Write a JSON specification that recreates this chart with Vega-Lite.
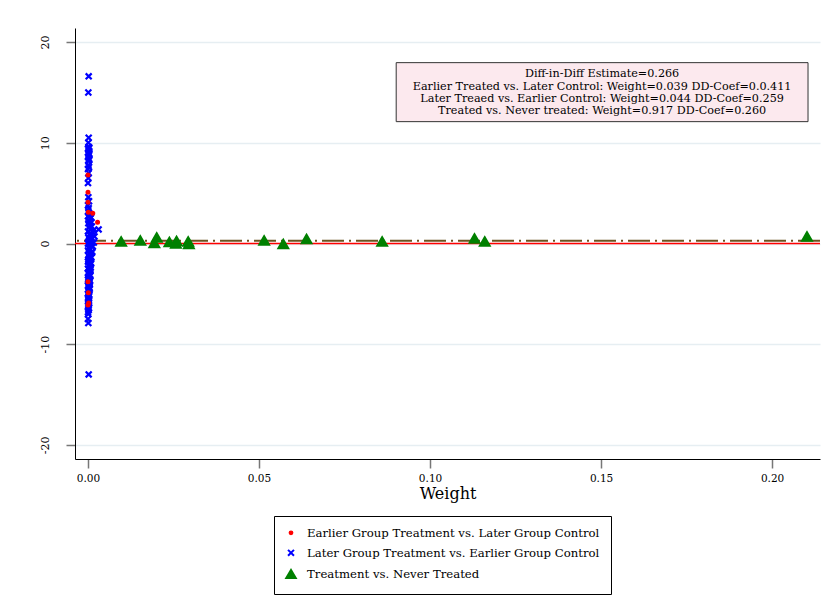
{
  "$schema": "https://vega.github.io/schema/vega-lite/v6.json",
  "autosize": {"type": "none"},
  "width": 745,
  "height": 431,
  "padding": {"left": 75, "top": 28, "right": 15, "bottom": 157},
  "background": "white",
  "config": {
    "view": {"stroke": null},
    "font": "DejaVu Serif",
    "axis": {"labelFont": "DejaVu Serif", "titleFont": "DejaVu Serif", "labelFontSize": 11, "labelColor": "black", "titleColor": "black", "domainColor": "black", "tickColor": "#777777", "tickSize": 9, "tickWidth": 1.5, "titleFontWeight": "normal"},
    "legend": {"labelFont": "DejaVu Serif", "labelFontSize": 11.7, "labelColor": "black"}
  },
  "layer": [
    {
      "data": {"values": [{"a": 1}]},
      "mark": {"type": "rule", "color": "#ff0000", "strokeWidth": 1.5},
      "encoding": {"y": {"datum": 0, "type": "quantitative"}}
    },
    {
      "data": {"values": [{"a": 1}]},
      "mark": {"type": "rule", "color": "#6b5320", "strokeWidth": 2, "strokeDash": [22, 5, 2, 5]},
      "encoding": {"y": {"datum": 0.266, "type": "quantitative"}}
    },
    {
      "data": {"values": [
        {"group": "Later Group Treatment vs. Earlier Group Control", "w": 0.0002, "v": 16.6},
        {"group": "Later Group Treatment vs. Earlier Group Control", "w": 0.0001, "v": 15.0},
        {"group": "Later Group Treatment vs. Earlier Group Control", "w": 0.0002, "v": 10.5},
        {"group": "Later Group Treatment vs. Earlier Group Control", "w": 0.0001, "v": 10.0},
        {"group": "Later Group Treatment vs. Earlier Group Control", "w": 0.0002, "v": 9.6},
        {"group": "Later Group Treatment vs. Earlier Group Control", "w": 0.0000, "v": 9.4},
        {"group": "Later Group Treatment vs. Earlier Group Control", "w": 0.0003, "v": 9.2},
        {"group": "Later Group Treatment vs. Earlier Group Control", "w": 0.0001, "v": 9.0},
        {"group": "Later Group Treatment vs. Earlier Group Control", "w": 0.0002, "v": 8.8},
        {"group": "Later Group Treatment vs. Earlier Group Control", "w": 0.0000, "v": 8.6},
        {"group": "Later Group Treatment vs. Earlier Group Control", "w": 0.0003, "v": 8.4},
        {"group": "Later Group Treatment vs. Earlier Group Control", "w": 0.0001, "v": 8.2},
        {"group": "Later Group Treatment vs. Earlier Group Control", "w": 0.0001, "v": 7.8},
        {"group": "Later Group Treatment vs. Earlier Group Control", "w": 0.0000, "v": 7.4},
        {"group": "Later Group Treatment vs. Earlier Group Control", "w": 0.0002, "v": 7.0},
        {"group": "Later Group Treatment vs. Earlier Group Control", "w": 0.0001, "v": 6.5},
        {"group": "Later Group Treatment vs. Earlier Group Control", "w": 0.0000, "v": 6.0},
        {"group": "Later Group Treatment vs. Earlier Group Control", "w": 0.0001, "v": 4.6},
        {"group": "Later Group Treatment vs. Earlier Group Control", "w": 0.0003, "v": 4.2},
        {"group": "Later Group Treatment vs. Earlier Group Control", "w": 0.0000, "v": 3.8},
        {"group": "Later Group Treatment vs. Earlier Group Control", "w": 0.0002, "v": 3.5},
        {"group": "Later Group Treatment vs. Earlier Group Control", "w": 0.0001, "v": 3.2},
        {"group": "Later Group Treatment vs. Earlier Group Control", "w": 0.0005, "v": 2.9},
        {"group": "Later Group Treatment vs. Earlier Group Control", "w": 0.0000, "v": 2.7},
        {"group": "Later Group Treatment vs. Earlier Group Control", "w": 0.0007, "v": 2.5},
        {"group": "Later Group Treatment vs. Earlier Group Control", "w": 0.0002, "v": 2.3},
        {"group": "Later Group Treatment vs. Earlier Group Control", "w": 0.0010, "v": 2.1},
        {"group": "Later Group Treatment vs. Earlier Group Control", "w": 0.0001, "v": 2.0},
        {"group": "Later Group Treatment vs. Earlier Group Control", "w": 0.0006, "v": 1.8},
        {"group": "Later Group Treatment vs. Earlier Group Control", "w": 0.0003, "v": 1.6},
        {"group": "Later Group Treatment vs. Earlier Group Control", "w": 0.0031, "v": 1.4},
        {"group": "Later Group Treatment vs. Earlier Group Control", "w": 0.0016, "v": 1.3},
        {"group": "Later Group Treatment vs. Earlier Group Control", "w": 0.0000, "v": 1.2},
        {"group": "Later Group Treatment vs. Earlier Group Control", "w": 0.0008, "v": 1.0},
        {"group": "Later Group Treatment vs. Earlier Group Control", "w": 0.0004, "v": 0.9},
        {"group": "Later Group Treatment vs. Earlier Group Control", "w": 0.0019, "v": 0.7},
        {"group": "Later Group Treatment vs. Earlier Group Control", "w": 0.0001, "v": 0.6},
        {"group": "Later Group Treatment vs. Earlier Group Control", "w": 0.0009, "v": 0.4},
        {"group": "Later Group Treatment vs. Earlier Group Control", "w": 0.0003, "v": 0.3},
        {"group": "Later Group Treatment vs. Earlier Group Control", "w": 0.0017, "v": 0.1},
        {"group": "Later Group Treatment vs. Earlier Group Control", "w": 0.0000, "v": 0.0},
        {"group": "Later Group Treatment vs. Earlier Group Control", "w": 0.0006, "v": -0.1},
        {"group": "Later Group Treatment vs. Earlier Group Control", "w": 0.0014, "v": -0.3},
        {"group": "Later Group Treatment vs. Earlier Group Control", "w": 0.0002, "v": -0.4},
        {"group": "Later Group Treatment vs. Earlier Group Control", "w": 0.0007, "v": -0.6},
        {"group": "Later Group Treatment vs. Earlier Group Control", "w": 0.0000, "v": -0.7},
        {"group": "Later Group Treatment vs. Earlier Group Control", "w": 0.0012, "v": -0.9},
        {"group": "Later Group Treatment vs. Earlier Group Control", "w": 0.0004, "v": -1.0},
        {"group": "Later Group Treatment vs. Earlier Group Control", "w": 0.0001, "v": -1.2},
        {"group": "Later Group Treatment vs. Earlier Group Control", "w": 0.0008, "v": -1.3},
        {"group": "Later Group Treatment vs. Earlier Group Control", "w": 0.0003, "v": -1.5},
        {"group": "Later Group Treatment vs. Earlier Group Control", "w": 0.0006, "v": -1.7},
        {"group": "Later Group Treatment vs. Earlier Group Control", "w": 0.0000, "v": -1.8},
        {"group": "Later Group Treatment vs. Earlier Group Control", "w": 0.0009, "v": -2.0},
        {"group": "Later Group Treatment vs. Earlier Group Control", "w": 0.0002, "v": -2.1},
        {"group": "Later Group Treatment vs. Earlier Group Control", "w": 0.0005, "v": -2.3},
        {"group": "Later Group Treatment vs. Earlier Group Control", "w": 0.0000, "v": -2.5},
        {"group": "Later Group Treatment vs. Earlier Group Control", "w": 0.0007, "v": -2.6},
        {"group": "Later Group Treatment vs. Earlier Group Control", "w": 0.0003, "v": -2.8},
        {"group": "Later Group Treatment vs. Earlier Group Control", "w": 0.0001, "v": -3.0},
        {"group": "Later Group Treatment vs. Earlier Group Control", "w": 0.0006, "v": -3.1},
        {"group": "Later Group Treatment vs. Earlier Group Control", "w": 0.0002, "v": -3.3},
        {"group": "Later Group Treatment vs. Earlier Group Control", "w": 0.0004, "v": -3.5},
        {"group": "Later Group Treatment vs. Earlier Group Control", "w": 0.0000, "v": -3.6},
        {"group": "Later Group Treatment vs. Earlier Group Control", "w": 0.0005, "v": -3.8},
        {"group": "Later Group Treatment vs. Earlier Group Control", "w": 0.0002, "v": -4.0},
        {"group": "Later Group Treatment vs. Earlier Group Control", "w": 0.0000, "v": -4.2},
        {"group": "Later Group Treatment vs. Earlier Group Control", "w": 0.0004, "v": -4.4},
        {"group": "Later Group Treatment vs. Earlier Group Control", "w": 0.0001, "v": -4.6},
        {"group": "Later Group Treatment vs. Earlier Group Control", "w": 0.0003, "v": -4.8},
        {"group": "Later Group Treatment vs. Earlier Group Control", "w": 0.0000, "v": -5.0},
        {"group": "Later Group Treatment vs. Earlier Group Control", "w": 0.0002, "v": -5.3},
        {"group": "Later Group Treatment vs. Earlier Group Control", "w": 0.0001, "v": -5.6},
        {"group": "Later Group Treatment vs. Earlier Group Control", "w": 0.0003, "v": -5.9},
        {"group": "Later Group Treatment vs. Earlier Group Control", "w": 0.0000, "v": -6.2},
        {"group": "Later Group Treatment vs. Earlier Group Control", "w": 0.0002, "v": -6.6},
        {"group": "Later Group Treatment vs. Earlier Group Control", "w": 0.0001, "v": -7.0},
        {"group": "Later Group Treatment vs. Earlier Group Control", "w": 0.0000, "v": -7.5},
        {"group": "Later Group Treatment vs. Earlier Group Control", "w": 0.0001, "v": -7.9},
        {"group": "Later Group Treatment vs. Earlier Group Control", "w": 0.0002, "v": -13.0},
        {"group": "Later Group Treatment vs. Earlier Group Control", "w": 0.0004, "v": 9.5},
        {"group": "Later Group Treatment vs. Earlier Group Control", "w": 0.0004, "v": 8.9},
        {"group": "Later Group Treatment vs. Earlier Group Control", "w": 0.0004, "v": 8.3},
        {"group": "Later Group Treatment vs. Earlier Group Control", "w": 0.0003, "v": 7.6},
        {"group": "Later Group Treatment vs. Earlier Group Control", "w": 0.0003, "v": 3.0},
        {"group": "Later Group Treatment vs. Earlier Group Control", "w": 0.0009, "v": 2.6},
        {"group": "Later Group Treatment vs. Earlier Group Control", "w": 0.0004, "v": 2.2},
        {"group": "Later Group Treatment vs. Earlier Group Control", "w": 0.0011, "v": 1.7},
        {"group": "Later Group Treatment vs. Earlier Group Control", "w": 0.0014, "v": 1.1},
        {"group": "Later Group Treatment vs. Earlier Group Control", "w": 0.0006, "v": 0.8},
        {"group": "Later Group Treatment vs. Earlier Group Control", "w": 0.0013, "v": 0.5},
        {"group": "Later Group Treatment vs. Earlier Group Control", "w": 0.0005, "v": 0.2},
        {"group": "Later Group Treatment vs. Earlier Group Control", "w": 0.0011, "v": -0.2},
        {"group": "Later Group Treatment vs. Earlier Group Control", "w": 0.0004, "v": -0.5},
        {"group": "Later Group Treatment vs. Earlier Group Control", "w": 0.0012, "v": -0.8},
        {"group": "Later Group Treatment vs. Earlier Group Control", "w": 0.0006, "v": -1.1},
        {"group": "Later Group Treatment vs. Earlier Group Control", "w": 0.0010, "v": -1.4},
        {"group": "Later Group Treatment vs. Earlier Group Control", "w": 0.0001, "v": -1.6},
        {"group": "Later Group Treatment vs. Earlier Group Control", "w": 0.0008, "v": -1.9},
        {"group": "Later Group Treatment vs. Earlier Group Control", "w": 0.0003, "v": -2.2},
        {"group": "Later Group Treatment vs. Earlier Group Control", "w": 0.0008, "v": -2.4},
        {"group": "Later Group Treatment vs. Earlier Group Control", "w": 0.0005, "v": -2.7},
        {"group": "Later Group Treatment vs. Earlier Group Control", "w": 0.0000, "v": -2.9},
        {"group": "Later Group Treatment vs. Earlier Group Control", "w": 0.0007, "v": -3.2},
        {"group": "Later Group Treatment vs. Earlier Group Control", "w": 0.0001, "v": -3.4},
        {"group": "Later Group Treatment vs. Earlier Group Control", "w": 0.0006, "v": -3.7},
        {"group": "Later Group Treatment vs. Earlier Group Control", "w": 0.0003, "v": -3.9},
        {"group": "Later Group Treatment vs. Earlier Group Control", "w": 0.0005, "v": -4.1},
        {"group": "Later Group Treatment vs. Earlier Group Control", "w": 0.0002, "v": -4.3},
        {"group": "Later Group Treatment vs. Earlier Group Control", "w": 0.0005, "v": -4.5},
        {"group": "Later Group Treatment vs. Earlier Group Control", "w": 0.0002, "v": -4.7},
        {"group": "Later Group Treatment vs. Earlier Group Control", "w": 0.0004, "v": -5.1},
        {"group": "Later Group Treatment vs. Earlier Group Control", "w": 0.0000, "v": -5.4},
        {"group": "Later Group Treatment vs. Earlier Group Control", "w": 0.0003, "v": -5.7},
        {"group": "Later Group Treatment vs. Earlier Group Control", "w": 0.0001, "v": -6.0},
        {"group": "Later Group Treatment vs. Earlier Group Control", "w": 0.0003, "v": -6.4},
        {"group": "Later Group Treatment vs. Earlier Group Control", "w": 0.0000, "v": -6.8},
        {"group": "Earlier Group Treatment vs. Later Group Control", "w": 0.0000, "v": 6.8},
        {"group": "Earlier Group Treatment vs. Later Group Control", "w": 0.0000, "v": 5.1},
        {"group": "Earlier Group Treatment vs. Later Group Control", "w": 0.0000, "v": 4.1},
        {"group": "Earlier Group Treatment vs. Later Group Control", "w": 0.0001, "v": 3.1},
        {"group": "Earlier Group Treatment vs. Later Group Control", "w": 0.0014, "v": 3.0},
        {"group": "Earlier Group Treatment vs. Later Group Control", "w": 0.0028, "v": 2.1},
        {"group": "Earlier Group Treatment vs. Later Group Control", "w": 0.0000, "v": -3.8},
        {"group": "Earlier Group Treatment vs. Later Group Control", "w": 0.0001, "v": -4.9},
        {"group": "Earlier Group Treatment vs. Later Group Control", "w": 0.0002, "v": -5.9},
        {"group": "Earlier Group Treatment vs. Later Group Control", "w": 0.0000, "v": -6.1},
        {"group": "Treatment vs. Never Treated", "w": 0.0097, "v": 0.2},
        {"group": "Treatment vs. Never Treated", "w": 0.0153, "v": 0.3},
        {"group": "Treatment vs. Never Treated", "w": 0.0201, "v": 0.6},
        {"group": "Treatment vs. Never Treated", "w": 0.0194, "v": 0.05},
        {"group": "Treatment vs. Never Treated", "w": 0.0238, "v": 0.15},
        {"group": "Treatment vs. Never Treated", "w": 0.0259, "v": 0.25},
        {"group": "Treatment vs. Never Treated", "w": 0.0257, "v": 0.0},
        {"group": "Treatment vs. Never Treated", "w": 0.0293, "v": 0.2},
        {"group": "Treatment vs. Never Treated", "w": 0.0295, "v": -0.05},
        {"group": "Treatment vs. Never Treated", "w": 0.0515, "v": 0.3},
        {"group": "Treatment vs. Never Treated", "w": 0.0571, "v": -0.05},
        {"group": "Treatment vs. Never Treated", "w": 0.0639, "v": 0.45},
        {"group": "Treatment vs. Never Treated", "w": 0.0860, "v": 0.2},
        {"group": "Treatment vs. Never Treated", "w": 0.1130, "v": 0.5},
        {"group": "Treatment vs. Never Treated", "w": 0.1160, "v": 0.2},
        {"group": "Treatment vs. Never Treated", "w": 0.2102, "v": 0.7}
      ]},
      "mark": {"type": "point", "filled": true, "opacity": 1, "strokeWidth": 2.2},
      "encoding": {
        "x": {"field": "w", "type": "quantitative", "scale": {"domain": [-0.0038, 0.214], "nice": false, "zero": false},
              "axis": {"values": [0, 0.05, 0.1, 0.15, 0.2], "format": ".2f", "grid": false, "title": "Weight", "titleFont": "DejaVu Serif", "labelFont": "DejaVu Serif", "labelFontSize": 10.5, "titleFontSize": 16, "titlePadding": 2, "labelPadding": 5}},
        "y": {"field": "v", "type": "quantitative", "scale": {"domain": [-21.4, 21.4], "nice": false, "zero": false},
              "axis": {"values": [-20, -10, 0, 10, 20], "labelExpr": "datum.value < 0 ? '-' + abs(datum.value) : '' + datum.value", "title": null, "grid": true, "gridColor": "#e6eef2", "gridWidth": 1.5, "labelFont": "DejaVu Serif", "labelFontSize": 11, "labelAngle": -90, "labelPadding": 16, "labelAlign": "center", "labelBaseline": "bottom"}},
        "color": {"field": "group", "type": "nominal",
                  "scale": {"domain": ["Earlier Group Treatment vs. Later Group Control", "Later Group Treatment vs. Earlier Group Control", "Treatment vs. Never Treated"], "range": ["#ff0000", "#0000ff", "#008000"]},
                  "legend": {"title": null, "orient": "none", "legendX": 199, "legendY": 488, "direction": "vertical", "strokeColor": "black", "fillColor": "white", "padding": 11, "rowPadding": 5, "labelOffset": 10, "symbolStrokeWidth": 2, "labelLimit": 400, "labelFont": "DejaVu Serif", "labelFontSize": 11.7}},
        "stroke": {"field": "group", "type": "nominal",
                   "scale": {"domain": ["Earlier Group Treatment vs. Later Group Control", "Later Group Treatment vs. Earlier Group Control", "Treatment vs. Never Treated"], "range": ["#ff0000", "#0000ff", "#008000"]}},
        "shape": {"field": "group", "type": "nominal",
                  "scale": {"domain": ["Earlier Group Treatment vs. Later Group Control", "Later Group Treatment vs. Earlier Group Control", "Treatment vs. Never Treated"], "range": ["circle", "M-0.85,-0.85L0.85,0.85M-0.85,0.85L0.85,-0.85", "triangle-up"]}},
        "size": {"field": "group", "type": "nominal",
                 "scale": {"type": "point", "padding": 0, "domain": ["Earlier Group Treatment vs. Later Group Control", "Later Group Treatment vs. Earlier Group Control", "Treatment vs. Never Treated"], "range": [8, 90]}}
      }
    },
    {
      "data": {"values": [{"x1": 0.0901, "x2": 0.2105, "y1": 17.96, "y2": 12.1}]},
      "mark": {"type": "rect", "fill": "#fce9ee", "stroke": "#333333", "strokeWidth": 1},
      "encoding": {
        "x": {"field": "x1", "type": "quantitative"},
        "x2": {"field": "x2"},
        "y": {"field": "y1", "type": "quantitative"},
        "y2": {"field": "y2"}
      }
    },
    {
      "data": {"values": [{"xc": 0.1503, "yc": 16.82, "label": "Diff-in-Diff Estimate=0.266\nEarlier Treated vs. Later Control: Weight=0.039 DD-Coef=0.0.411\nLater Treaed vs. Earlier Control: Weight=0.044 DD-Coef=0.259\nTreated vs. Never treated: Weight=0.917 DD-Coef=0.260"}]},
      "mark": {"type": "text", "font": "DejaVu Serif", "fontSize": 11.2, "lineBreak": "\n", "lineHeight": 12.4, "align": "center", "baseline": "middle", "color": "black"},
      "encoding": {
        "x": {"field": "xc", "type": "quantitative"},
        "y": {"field": "yc", "type": "quantitative"},
        "text": {"field": "label", "type": "nominal"}
      }
    }
  ]
}
